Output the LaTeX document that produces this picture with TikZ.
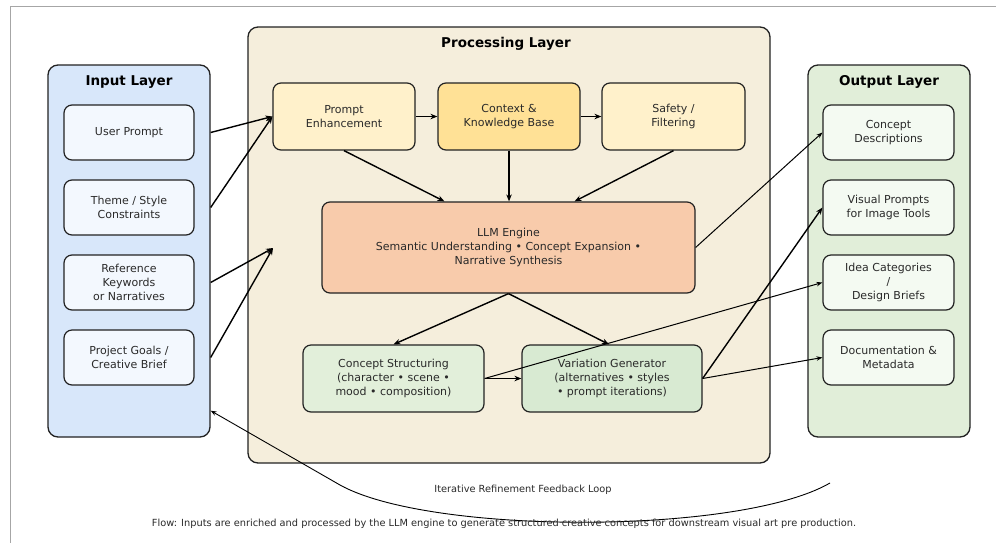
\documentclass[tikz,border=0pt]{standalone}
\usepackage{fontspec}
\setmainfont{DejaVu Sans}
\usetikzlibrary{calc,arrows.meta}
\definecolor{inlayer}{HTML}{D8E7FA}
\definecolor{inbox}{HTML}{F3F8FE}
\definecolor{proclayer}{HTML}{F5EEDC}
\definecolor{lightyel}{HTML}{FFF1CB}
\definecolor{darkyel}{HTML}{FFE196}
\definecolor{llmfill}{HTML}{F8CBAB}
\definecolor{csfill}{HTML}{E2EFDA}
\definecolor{vgfill}{HTML}{D8EAD2}
\definecolor{outlayer}{HTML}{E1EED9}
\definecolor{outbox}{HTML}{F4FAF2}
\definecolor{edge}{HTML}{222222}
\definecolor{txt}{HTML}{2A2A2A}
\tikzset{
  layerbox/.style={draw=edge, line width=1.3pt, rounded corners=10pt, anchor=center, inner sep=0pt},
  itembox/.style={draw=edge, line width=1.2pt, rounded corners=8pt, align=center, text=txt,
    font=\fontsize{11}{14}\selectfont, inner sep=0pt, anchor=center},
  layertitle/.style={font=\fontsize{13.5}{16}\selectfont\bfseries, text=black, anchor=center},
  arr/.style={line width=1.4pt, draw=black, -{Stealth[length=7pt,width=5.5pt]}},
  thinarr/.style={line width=1pt, draw=black, -{Stealth[length=6pt,width=4.5pt]}},
  note/.style={font=\fontsize{9.8}{11}\selectfont, text=txt, anchor=center}
}
\begin{document}
\begin{tikzpicture}[x=1pt,y=-1pt]
\useasboundingbox (0,0) rectangle (996,542);
\fill[white] (0,0) rectangle (996,542);
\draw[gray!70, line width=1pt] (10,545) -- (10,6) -- (1000,6);

% layers
\node[layerbox, fill=inlayer, minimum width=162pt, minimum height=372pt] (inl) at (129,251) {};
\node[layerbox, fill=proclayer, minimum width=522pt, minimum height=436pt] (procl) at (509,245) {};
\node[layerbox, fill=outlayer, minimum width=162pt, minimum height=372pt] (outl) at (889,251) {};
\node[layertitle] (inlt) at (129,82) {Input Layer};
\node[layertitle] (proclt) at (506,44) {Processing Layer};
\node[layertitle] (outlt) at (889,82) {Output Layer};

% input items
\node[itembox, fill=inbox, minimum width=130pt, minimum height=55pt] (up) at (129,132.5) {User Prompt};
\node[itembox, fill=inbox, minimum width=130pt, minimum height=55pt] (theme) at (129,207.5) {Theme / Style\\Constraints};
\node[itembox, fill=inbox, minimum width=130pt, minimum height=55pt] (ref) at (129,282.5) {Reference\\Keywords\\or Narratives};
\node[itembox, fill=inbox, minimum width=130pt, minimum height=55pt] (goals) at (129,357.5) {Project Goals /\\Creative Brief};

% processing items
\node[itembox, fill=lightyel, minimum width=142pt, minimum height=67pt] (pe) at (344,116.5) {Prompt\\Enhancement};
\node[itembox, fill=darkyel, minimum width=142pt, minimum height=67pt] (ckb) at (509,116.5) {Context \&\\Knowledge Base};
\node[itembox, fill=lightyel, minimum width=143pt, minimum height=67pt] (safe) at (673.5,116.5) {Safety /\\Filtering};
\node[itembox, fill=llmfill, minimum width=373pt, minimum height=91pt] (llm) at (508.5,247.5) {LLM Engine\\Semantic Understanding • Concept Expansion •\\Narrative Synthesis};
\node[itembox, fill=csfill, minimum width=181pt, minimum height=67pt] (cs) at (393.5,378.5) {Concept Structuring\\(character • scene •\\mood • composition)};
\node[itembox, fill=vgfill, minimum width=180pt, minimum height=67pt] (vg) at (612,378.5) {Variation Generator\\(alternatives • styles\\• prompt iterations)};

% output items
\node[itembox, fill=outbox, minimum width=131pt, minimum height=55pt] (cd) at (888.5,132.5) {Concept\\Descriptions};
\node[itembox, fill=outbox, minimum width=131pt, minimum height=55pt] (vp) at (888.5,207.5) {Visual Prompts\\for Image Tools};
\node[itembox, fill=outbox, minimum width=131pt, minimum height=55pt] (ic) at (888.5,282.5) {Idea Categories\\/\\Design Briefs};
\node[itembox, fill=outbox, minimum width=131pt, minimum height=55pt] (doc) at (888.5,357.5) {Documentation \&\\Metadata};

\coordinate (pin) at (273,248);

% input arrows
\draw[arr] (up.east -| inl.east) -- (pe.west);
\draw[arr] (theme.east -| inl.east) -- (pe.west);
\draw[arr] (ref.east -| inl.east) -- (pin);
\draw[arr] (goals.east -| inl.east) -- (pin);

% processing arrows
\draw[arr] (pe.east) -- (ckb.west);
\draw[arr] (ckb.east) -- (safe.west);
\draw[arr] (pe.south) -- ($(llm.north)+(-64,0)$);
\draw[arr] (ckb.south) -- (ckb.south |- llm.north);
\draw[arr] (safe.south) -- ($(llm.north)+(66,0)$);
\draw[arr] (llm.south) -- (cs.north);
\draw[arr] (llm.south) -- ($(vg.north)+(-3,0)$);
\draw[arr] (cs.east) -- (vg.west);

% output arrows
\draw[thinarr] (llm.east) -- (cd.west);
\draw[thinarr] (cs.east) -- (ic.west);
\draw[arr] (vg.east) -- (vp.west);
\draw[thinarr] (vg.east) -- (doc.west);

% feedback loop
\draw[thinarr, line width=0.9pt] (830,483) .. controls (740,535) and (430,535) .. (340,485) -- ($(inl.south east)+(0,-27)$);
\node[note] (fbl) at (523,490) {Iterative Refinement Feedback Loop};
\node[note] (cap) at (504,524) {Flow: Inputs are enriched and processed by the LLM engine to generate structured creative concepts for downstream visual art pre production.};
\end{tikzpicture}
\end{document}
